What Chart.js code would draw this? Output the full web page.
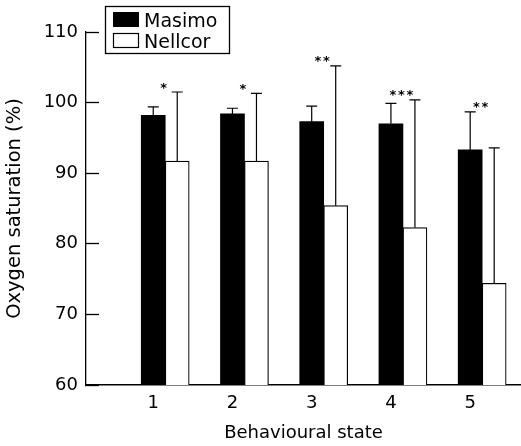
<!DOCTYPE html>
<html>
<head>
<meta charset="utf-8">
<script src="https://cdn.jsdelivr.net/npm/chart.js@4.4.1/dist/chart.umd.min.js"></script>
<style>
  html, body { margin: 0; padding: 0; background: #fff; }
</style>
</head>
<body>
<canvas id="oxygenChart" width="521" height="446"></canvas>
<script>
// Behavioural states (x axis)
const states = [1, 2, 3, 4, 5];
// Mean oxygen saturation (%) for each device
const masimoMean = [98.2, 98.4, 97.3, 97.0, 93.3];
const nellcorMean = [91.7, 91.7, 85.4, 82.3, 74.4];
// Upper error bars (SD)
const masimoSD = [1.2, 0.8, 2.2, 2.9, 5.4];
const nellcorSD = [9.8, 9.6, 19.8, 18.1, 19.2];
// Significance markers above each pair
const significance = ['*', '*', '**', '***', '**'];
const yTicks = [60, 70, 80, 90, 100, 110];

const FONT = '"DejaVu Sans", "Liberation Sans", sans-serif';

// Draws the one-sided error bars and the asterisks
const errorBarPlugin = {
    id: 'errorBars',
    afterDatasetsDraw(chart) {
        const ctx = chart.ctx;
        const yScale = chart.scales.y;
        const xScale = chart.scales.x;
        const tops = states.map(() => Infinity);
        ctx.save();
        ctx.strokeStyle = '#000';
        ctx.lineWidth = 1.2;
        chart.data.datasets.forEach((ds, di) => {
            chart.getDatasetMeta(di).data.forEach((bar, i) => {
                const top = yScale.getPixelForValue(ds.data[i].y + ds.errors[i]);
                tops[i] = Math.min(tops[i], top);
                ctx.beginPath();
                ctx.moveTo(bar.x, bar.y);
                ctx.lineTo(bar.x, top);
                ctx.moveTo(bar.x - 5.5, top);
                ctx.lineTo(bar.x + 5.5, top);
                ctx.stroke();
            });
        });
        // asterisks
        ctx.fillStyle = '#000';
        ctx.font = 'bold 13px ' + FONT;
        ctx.textAlign = 'center';
        ctx.textBaseline = 'alphabetic';
        significance.forEach((s, i) => {
            const cx = xScale.getPixelForValue(states[i]) - 1.5;
            const y = tops[i] - 8 + 7.5;
            const n = s.length;
            for (let k = 0; k < n; k++) {
                ctx.fillText('*', cx + (k - (n - 1) / 2) * 8.5, y);
            }
        });
        ctx.restore();
    }
};

// Boxed legend sitting over the top-left of the plot
const boxLegendPlugin = {
    id: 'boxLegend',
    afterDraw(chart) {
        const ctx = chart.ctx;
        ctx.save();
        ctx.strokeStyle = '#000';
        ctx.lineWidth = 1.3;
        ctx.fillStyle = '#fff';
        ctx.fillRect(105.5, 6.5, 124, 47);
        ctx.strokeRect(105.5, 6.5, 124, 47);
        ctx.font = '19px ' + FONT;
        ctx.textBaseline = 'alphabetic';
        ctx.textAlign = 'left';
        chart.data.datasets.forEach((ds, i) => {
            const y = 12 + i * 21;
            ctx.fillStyle = ds.backgroundColor;
            ctx.fillRect(113, y, 26, 15);
            if (ds.borderWidth) {
                ctx.lineWidth = 1.2;
                ctx.strokeRect(113.5, y + 0.5, 25, 14);
            }
            ctx.fillStyle = '#000';
            ctx.fillText(ds.label, 144, y + 14.5);
        });
        ctx.restore();
    }
};

const ctx = document.getElementById('oxygenChart').getContext('2d');
new Chart(ctx, {
    type: 'bar',
    data: {
        datasets: [{
            label: 'Masimo',
            data: states.map((s, i) => ({ x: s, y: masimoMean[i] })),
            errors: masimoSD,
            backgroundColor: '#000',
            borderColor: '#000',
            borderWidth: 0
        }, {
            label: 'Nellcor',
            data: states.map((s, i) => ({ x: s, y: nellcorMean[i] })),
            errors: nellcorSD,
            backgroundColor: '#fff',
            borderColor: '#000',
            borderWidth: 1.2
        }]
    },
    options: {
        responsive: false,
        animation: false,
        barThickness: 24,
        layout: { padding: { top: 32, left: 0, right: 0, bottom: 0 } },
        plugins: {
            legend: { display: false },
            tooltip: { enabled: false }
        },
        scales: {
            x: {
                type: 'linear',
                min: 0,
                max: 5.49,
                offset: false,
                afterBuildTicks: s => { s.ticks = states.map(v => ({ value: v })); },
                afterFit: s => { s.height = 61; },
                grid: { display: false, drawTicks: false, offset: false },
                border: { color: '#000', width: 1.5 },
                ticks: {
                    color: '#000',
                    font: { family: FONT, size: 18 },
                    padding: 8,
                    labelOffset: -12,
                    callback: v => String(v)
                },
                title: {
                    display: true,
                    text: 'Behavioural state',
                    color: '#000',
                    font: { family: FONT, size: 18 },
                    padding: { top: 0, bottom: 2 }
                }
            },
            y: {
                min: 60,
                max: 110,
                afterBuildTicks: s => { s.ticks = yTicks.map(v => ({ value: v })); },
                afterFit: s => { s.width = 86; },
                // negative tick length draws the tick marks inside the plot
                grid: { drawOnChartArea: false, tickLength: -13, tickColor: '#000', tickWidth: 1.3 },
                border: { color: '#000', width: 1.3 },
                ticks: {
                    color: '#000',
                    font: { family: FONT, size: 18 },
                    padding: 21
                },
                title: {
                    display: true,
                    text: 'Oxygen saturation (%)',
                    color: '#000',
                    font: { family: FONT, size: 19.5 },
                    padding: { top: 3, bottom: 0 }
                }
            }
        }
    },
    plugins: [errorBarPlugin, boxLegendPlugin]
});
</script>
</body>
</html>
